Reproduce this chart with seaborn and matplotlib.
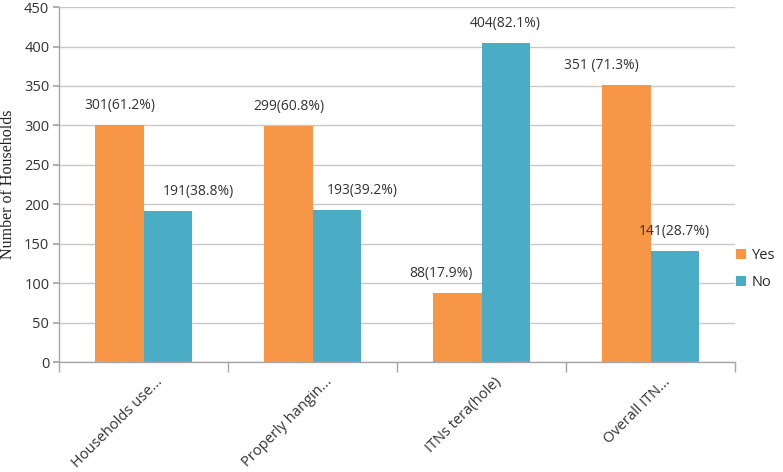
import matplotlib
matplotlib.use("Agg")
import matplotlib.pyplot as plt
import matplotlib.transforms as mtransforms
import pandas as pd
import seaborn as sns

# data
measures = ["Households use...", "Properly hangin...", "ITNs tera(hole)", "Overall ITN..."]
yes_counts = [301, 299, 88, 351]
no_counts = [191, 193, 404, 141]
yes_labels = ["301(61.2%)", "299(60.8%)", "88(17.9%)", "351 (71.3%)"]
no_labels = ["191(38.8%)", "193(39.2%)", "404(82.1%)", "141(28.7%)"]
y_ticks = list(range(0, 451, 50))

# horizontal nudges for the value labels (category units)
yes_nudge = [0.0, 0.0, -0.10, -0.15]
no_nudge = [0.18, 0.15, 0.0, 0.0]

ORANGE = "#F79646"
BLUE = "#4BACC6"

df = pd.DataFrame({
    "measure": measures * 2,
    "count": yes_counts + no_counts,
    "response": ["Yes"] * len(measures) + ["No"] * len(measures),
})

sns.set_theme(style="white")
plt.rcParams["font.family"] = ["Open Sans", "DejaVu Sans"]

fig = plt.figure(figsize=(7.83, 4.72), dpi=100)
ax = fig.add_axes([0.0754, 0.233, 0.8633, 0.752])

sns.barplot(data=df, x="measure", y="count", hue="response",
            palette={"Yes": ORANGE, "No": BLUE}, width=0.57,
            saturation=1, linewidth=0, ax=ax, legend=True)

ax.set_xlim(-0.5, len(measures) - 0.5)
ax.set_ylim(0, 450)
ax.set_yticks(y_ticks)
ax.yaxis.grid(True, color="#c8c8c8", linewidth=1)
ax.set_axisbelow(True)

for s in ["top", "right"]:
    ax.spines[s].set_visible(False)
for s in ["left", "bottom"]:
    ax.spines[s].set_color("#a6a6a6")
    ax.spines[s].set_linewidth(1)

ax.tick_params(axis="y", which="major", length=4, color="#a6a6a6",
               labelsize=10.5, labelcolor="#333333", left=True, pad=3)
ax.set_xticks(range(len(measures)))
ax.set_xticklabels(measures, rotation=45, ha="right", rotation_mode="anchor",
                   fontsize=10.5, color="#333333")
ax.tick_params(axis="x", which="major", length=0, pad=9)
# nudge the rotated labels a little to the right, like the original
shift = mtransforms.ScaledTranslation(12 / 100, 0, fig.dpi_scale_trans)
for lab in ax.get_xticklabels():
    lab.set_transform(lab.get_transform() + shift)
ax.set_xticks([i - 0.5 for i in range(len(measures) + 1)], minor=True)
ax.tick_params(axis="x", which="minor", length=7, color="#a6a6a6", bottom=True)

ax.set_xlabel("")
ax.set_ylabel("Number of Households", family=["Liberation Serif", "DejaVu Serif"],
              fontsize=11.5, color="#222222", labelpad=6)

bw = 0.57 / 2
for i in range(len(measures)):
    ax.annotate(yes_labels[i], (i - bw / 2 + yes_nudge[i], yes_counts[i]),
                xytext=(0, 14), textcoords="offset points",
                ha="center", va="center", fontsize=10, color="#333333")
    ax.annotate(no_labels[i], (i + bw / 2 + no_nudge[i], no_counts[i]),
                xytext=(0, 14), textcoords="offset points",
                ha="center", va="center", fontsize=10, color="#333333")

handles, labels = ax.get_legend_handles_labels()
ax.legend(handles, labels, loc="center left", bbox_to_anchor=(0.932, 0.43),
          bbox_transform=fig.transFigure, frameon=False, fontsize=10.5,
          handlelength=0.7, handleheight=0.7, handletextpad=0.4,
          labelspacing=0.85, borderaxespad=0)

fig.savefig("out.png", dpi=100)
